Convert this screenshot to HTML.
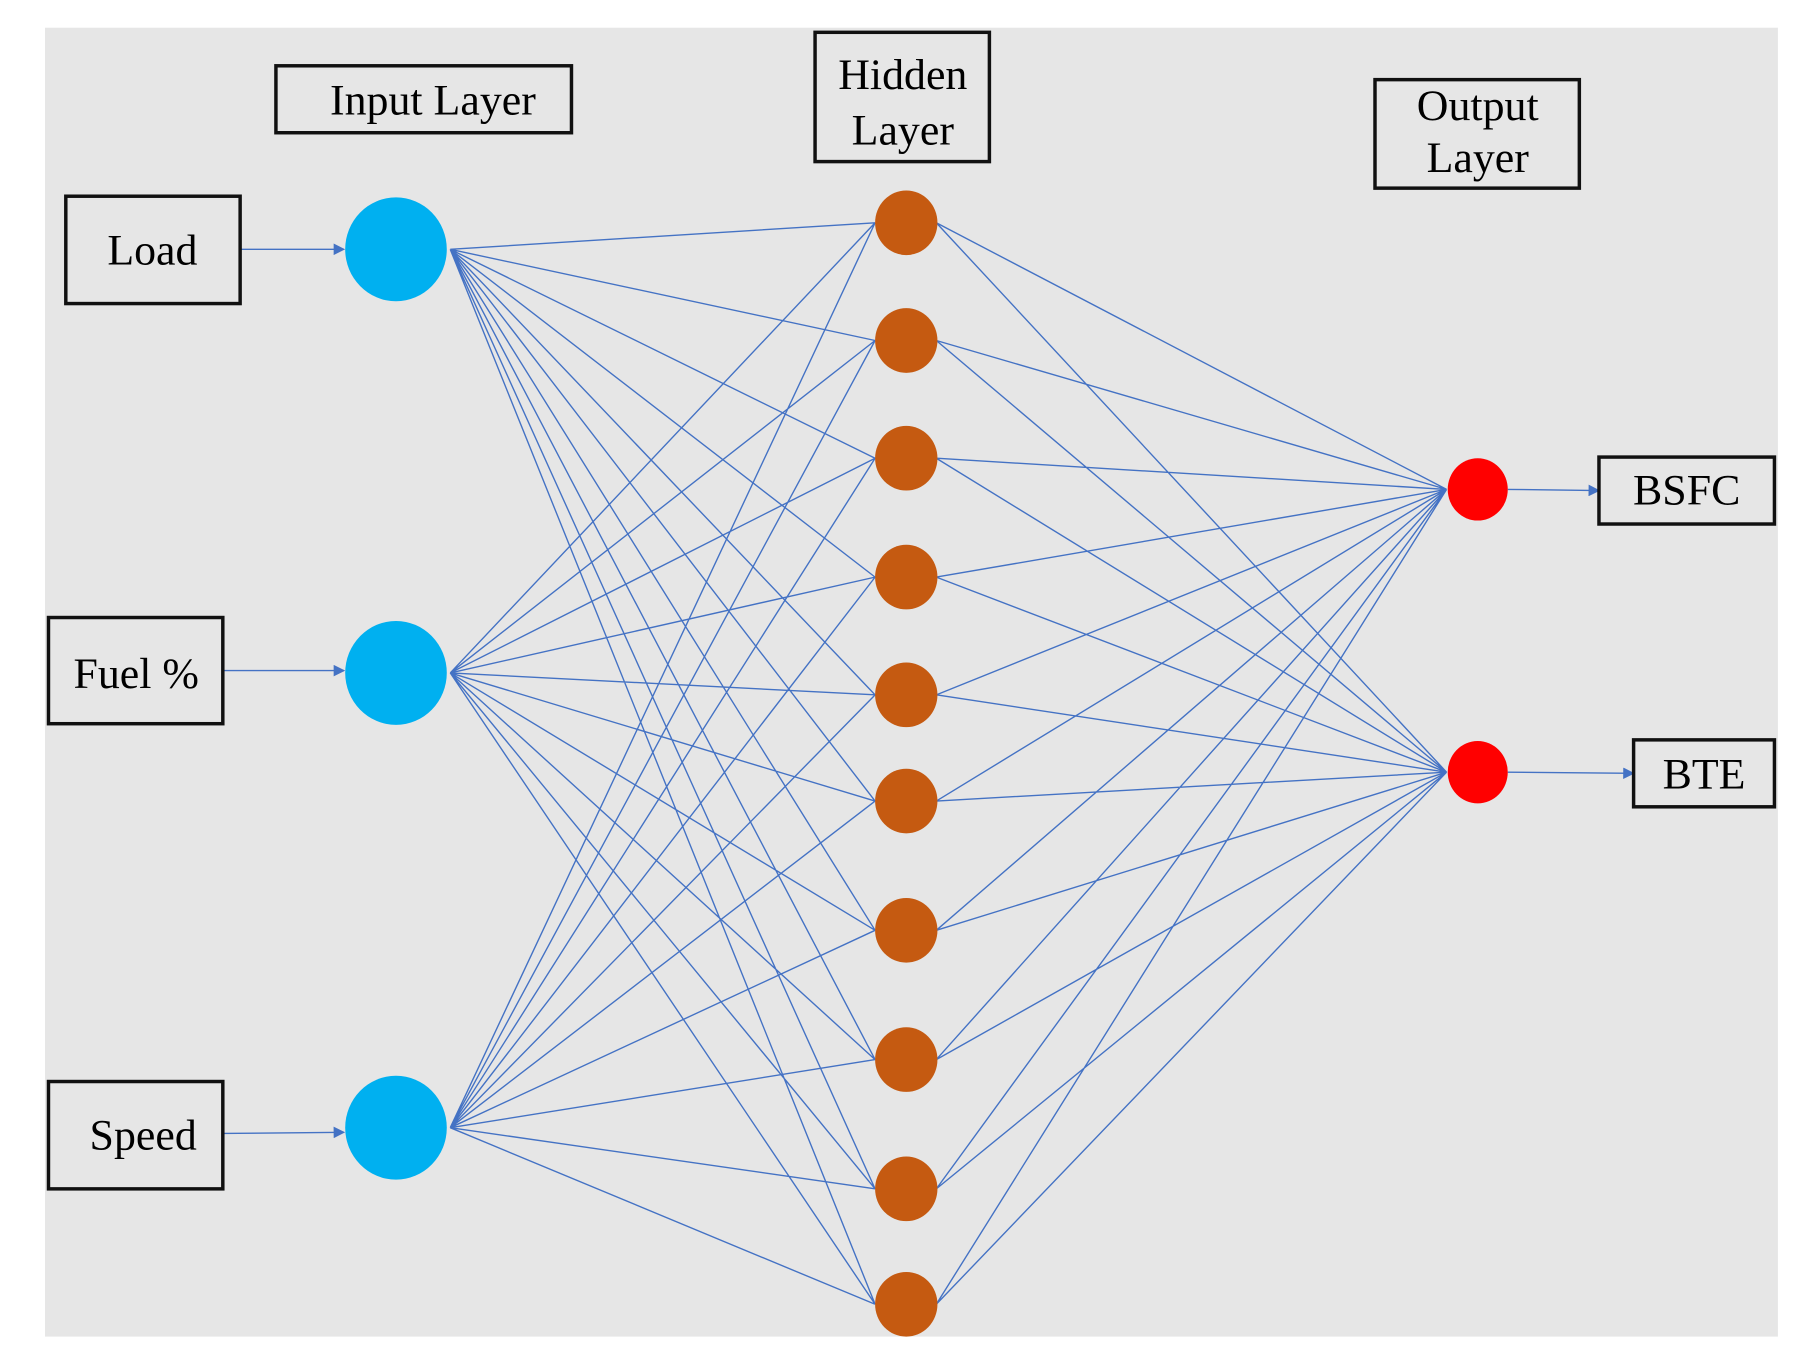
<!DOCTYPE html>
<html><head><meta charset="utf-8"><style>
html,body{margin:0;padding:0;background:#fff;}
svg{display:block;}
text{font-family:"Liberation Serif",serif;fill:#000;}
</style></head><body>
<svg width="1801" height="1362" viewBox="0 0 1560 1180" preserveAspectRatio="none" xmlns="http://www.w3.org/2000/svg">
<defs><marker id="a" markerWidth="10" markerHeight="10" refX="9" refY="5" orient="auto" markerUnits="userSpaceOnUse"><path d="M0,0 L10,5 L0,10 z" fill="#4472c4"/></marker></defs>
<rect x="39" y="24" width="1501" height="1134" fill="#e6e6e6"/>
<g stroke="#4472c4" stroke-width="1.2" fill="none">
<!-- input to hidden -->
<path d="M390,216L758,193M390,216L758,295M390,216L758,397M390,216L758,500M390,216L758,602M390,216L758,694M390,216L758,806M390,216L758,918M390,216L758,1030M390,216L758,1130
M390,583L758,193M390,583L758,295M390,583L758,397M390,583L758,500M390,583L758,602M390,583L758,694M390,583L758,806M390,583L758,918M390,583L758,1030M390,583L758,1130
M390,977L758,193M390,977L758,295M390,977L758,397M390,977L758,500M390,977L758,602M390,977L758,694M390,977L758,806M390,977L758,918M390,977L758,1030M390,977L758,1130"/>
<!-- hidden to output -->
<path d="M811,193L1253,424M811,295L1253,424M811,397L1253,424M811,500L1253,424M811,602L1253,424M811,694L1253,424M811,806L1253,424M811,918L1253,424M811,1030L1253,424M811,1130L1253,424
M811,193L1253,669M811,295L1253,669M811,397L1253,669M811,500L1253,669M811,602L1253,669M811,694L1253,669M811,806L1253,669M811,918L1253,669M811,1030L1253,669M811,1130L1253,669"/>
<path d="M208,216L298,216" marker-end="url(#a)"/>
<path d="M193,581L298,581" marker-end="url(#a)"/>
<path d="M193,982L298,981" marker-end="url(#a)"/>
<path d="M1306,424L1385,425" marker-end="url(#a)"/>
<path d="M1306,669L1415,670" marker-end="url(#a)"/>
</g>
<g fill="#00b0f0"><ellipse cx="343" cy="216" rx="44" ry="45"/><ellipse cx="343" cy="583" rx="44" ry="45"/><ellipse cx="343" cy="977" rx="44" ry="45"/></g>
<g fill="#c55a11">
<ellipse cx="785" cy="193" rx="27" ry="28"/><ellipse cx="785" cy="295" rx="27" ry="28"/><ellipse cx="785" cy="397" rx="27" ry="28"/><ellipse cx="785" cy="500" rx="27" ry="28"/><ellipse cx="785" cy="602" rx="27" ry="28"/><ellipse cx="785" cy="694" rx="27" ry="28"/><ellipse cx="785" cy="806" rx="27" ry="28"/><ellipse cx="785" cy="918" rx="27" ry="28"/><ellipse cx="785" cy="1030" rx="27" ry="28"/><ellipse cx="785" cy="1130" rx="27" ry="28"/>
</g>
<g fill="#ff0000"><ellipse cx="1280" cy="424" rx="26" ry="27"/><ellipse cx="1280" cy="669" rx="26" ry="27"/></g>
<g fill="none" stroke="#111" stroke-width="3">
<rect x="239" y="57" width="256" height="58"/>
<rect x="706" y="28" width="151" height="112"/>
<rect x="1191" y="69" width="177" height="94"/>
<rect x="57" y="170" width="151" height="93"/>
<rect x="42" y="535" width="151" height="92"/>
<rect x="42" y="937" width="151" height="93"/>
<rect x="1385" y="396" width="152" height="58"/>
<rect x="1415" y="641" width="122" height="58"/>
</g>
<g font-size="38" text-anchor="middle">
<text x="375" y="99">Input Layer</text>
<text x="782" y="77">Hidden</text>
<text x="782" y="125">Layer</text>
<text x="1280" y="104">Output</text>
<text x="1280" y="149">Layer</text>
<text x="132" y="229">Load</text>
<text x="118" y="596">Fuel %</text>
<text x="124" y="996">Speed</text>
<text x="1461" y="437">BSFC</text>
<text x="1476" y="683">BTE</text>
</g>
</svg>
</body></html>
